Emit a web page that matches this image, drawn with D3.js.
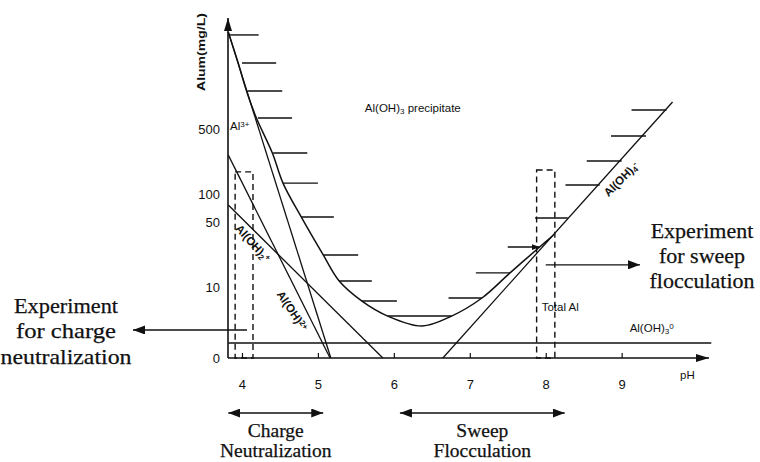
<!DOCTYPE html>
<html>
<head>
<meta charset="utf-8">
<script src="https://cdn.jsdelivr.net/npm/d3@7"></script>
<style>
body { margin: 0; background: #fff; }
svg { display: block; }
.serif { font-family: "Liberation Serif", "Times New Roman", serif; fill: #111; stroke: #111; stroke-width: 0.25px; }
.lbl { font-family: "Liberation Sans", Arial, sans-serif; font-size: 11.5px; fill: #111; }
.tick text { font-family: "Liberation Sans", Arial, sans-serif; font-size: 13px; fill: #111; }
</style>
</head>
<body>
<script>
let width = 760
let height = 462

// ticks
const phTicks = [4, 5, 6, 7, 8, 9]
const alumTicks = [10, 50, 100, 500]
const alumMin = 1.725   // bottom of the axis, labelled "0"
const alumMax = 7800

// species lines, [pH, alum mg/L]
const al3 = [[3.82, 5500], [5.17, alumMin]]
const alOH = [[3.82, 262], [5.16, alumMin]]      // Al(OH)2+ (2+)
const alOH2 = [[3.82, 76], [5.855, alumMin]]     // Al(OH)2 +
const alOH4 = [[6.645, alumMin], [9.67, 975]]    // Al(OH)4 -
const alOH3 = [[3.82, 2.5], [10.18, 2.5]]        // Al(OH)3 0

// total Al curve
const totalAl = [[3.82, 5500], [3.95, 2560], [4.06, 1280], [4.19, 656], [4.40, 276],
    [4.54, 131], [4.78, 56.6], [5.07, 22.1], [5.28, 11.6], [5.58, 7.06], [5.92, 4.87],
    [6.37, 3.81], [6.76, 4.87], [7.16, 7.62], [7.53, 14.2], [7.92, 26.9], [8.1, 36]]

// hatching of the precipitate region: [mg/L, pH left, pH right]
const hatches = [[5130, 3.82, 4.22], [2560, 4.0, 4.45], [1280, 4.07, 4.53], [656, 4.21, 4.66],
    [276, 4.41, 4.86], [131, 4.54, 5.0], [56.6, 4.78, 5.21], [22.1, 5.07, 5.53],
    [11.6, 5.28, 5.71], [7.06, 5.58, 6.04], [4.87, 5.92, 6.76], [7.62, 6.72, 7.16],
    [14.2, 7.08, 7.53], [26.9, 7.5, 7.92], [55.2, 7.86, 8.29], [125, 8.26, 8.71],
    [226, 8.54, 9.0], [421, 8.86, 9.32], [800, 9.13, 9.59]]

// experiment windows: [pH from, pH to, top mg/L]
const boxes = [[3.91, 4.145, 173], [7.88, 8.12, 181]]

// regimes below the axis: [pH from, pH to]
const regimes = [[3.82, 5.07, "Charge", "Neutralization"], [6.08, 8.25, "Sweep", "Flocculation"]]

const x = d3.scaleLinear().domain([3.816, 10.15]).range([228, 709])
const y = d3.scaleLog().domain([alumMin, alumMax]).range([358, 18])

const svg = d3.select("body").append("svg")
    .attr("width", width)
    .attr("height", height)

const defs = svg.append("defs")
function marker(id, w, h) {
    defs.append("marker")
        .attr("id", id)
        .attr("markerUnits", "userSpaceOnUse")
        .attr("markerWidth", w).attr("markerHeight", h)
        .attr("refX", w).attr("refY", h / 2)
        .attr("orient", "auto-start-reverse")
        .append("path")
        .attr("d", `M0,0L${w},${h / 2}L0,${h}Z`)
        .attr("fill", "#111")
}
marker("ax", 13, 8)
marker("arr", 12, 9)
marker("small", 8, 6)

// axes
svg.append("line")
    .attr("x1", x(3.816)).attr("x2", x(3.816))
    .attr("y1", y(alumMin)).attr("y2", y(alumMax))
    .attr("stroke", "#111").attr("stroke-width", 1.6)
    .attr("marker-end", "url(#ax)")
svg.append("line")
    .attr("x1", x(3.816)).attr("x2", x(10.15))
    .attr("y1", y(alumMin)).attr("y2", y(alumMin))
    .attr("stroke", "#111").attr("stroke-width", 1.6)
    .attr("marker-end", "url(#ax)")

const gx = svg.append("g")
    .attr("transform", `translate(0,${y(alumMin)})`)
    .call(d3.axisBottom(x).tickValues(phTicks).tickSizeInner(-5).tickSizeOuter(0).tickPadding(22)
        .tickFormat(d3.format("d")))
gx.select(".domain").remove()
gx.selectAll(".tick line").attr("stroke", "#111").attr("stroke-width", 1.2)

const gy = svg.append("g")
    .attr("transform", `translate(${x(3.816)},0)`)
    .call(d3.axisLeft(y).tickValues([alumMin, ...alumTicks]).tickSize(0).tickPadding(8)
        .tickFormat(d => d === alumMin ? "0" : d))
gy.select(".domain").remove()

svg.append("text")
    .attr("class", "lbl")
    .attr("transform", "translate(205,52) rotate(-90)")
    .attr("text-anchor", "middle")
    .attr("font-weight", "bold")
    .attr("font-size", "12px")
    .attr("textLength", 78)
    .attr("lengthAdjust", "spacingAndGlyphs")
    .text("Alum(mg/L)")
svg.append("text")
    .attr("class", "lbl")
    .attr("font-size", "13px")
    .attr("x", 680).attr("y", 379)
    .text("pH")

// lines
const line = d3.line().x(d => x(d[0])).y(d => y(d[1]))
const species = [al3, alOH, alOH2, alOH4, alOH3]
svg.append("g")
    .attr("fill", "none")
    .attr("stroke", "#111")
    .attr("stroke-width", 1.3)
    .selectAll("path")
    .data(species)
    .join("path")
    .attr("d", line)

svg.append("path")
    .datum(totalAl)
    .attr("fill", "none")
    .attr("stroke", "#111")
    .attr("stroke-width", 1.5)
    .attr("d", line.curve(d3.curveCatmullRom.alpha(0.5)))

svg.append("g")
    .attr("stroke", "#111")
    .attr("stroke-width", 1.4)
    .selectAll("line")
    .data(hatches)
    .join("line")
    .attr("x1", d => x(d[1]))
    .attr("x2", d => x(d[2]))
    .attr("y1", d => y(d[0]))
    .attr("y2", d => y(d[0]))
    .attr("marker-end", (d, i) => i === 13 ? "url(#small)" : null)

// dashed windows
svg.append("g")
    .attr("fill", "none")
    .attr("stroke", "#111")
    .attr("stroke-width", 1.4)
    .attr("stroke-dasharray", "6,4")
    .selectAll("rect")
    .data(boxes)
    .join("rect")
    .attr("x", d => x(d[0]))
    .attr("width", d => x(d[1]) - x(d[0]))
    .attr("y", d => y(d[2]))
    .attr("height", d => y(alumMin) - y(d[2]))

// labels with sub / superscripts
function rich(sel, parts) {
    parts.forEach(p => {
        sel.append("tspan")
            .attr("baseline-shift", p[1] === "sub" ? "-30%" : p[1] === "sup" ? "40%" : null)
            .attr("font-size", p[1] ? "70%" : null)
            .text(p[0])
    })
    return sel
}
function label(pH, c, parts, angle, bold) {
    const t = svg.append("text")
        .attr("class", "lbl")
        .attr("transform", `translate(${x(pH)},${y(c)}) rotate(${angle || 0})`)
        .attr("text-anchor", angle ? "middle" : "start")
        .attr("font-weight", bold ? "bold" : null)
    return rich(t, parts)
}
label(5.618, 762, [["Al(OH)"], ["3", "sub"], [" precipitate"]])
label(3.842, 488, [["Al"], ["3+", "sup"]])
label(7.947, 5.52, [["Total Al"]])
label(9.105, 3.28, [["Al(OH)"], ["3", "sub"], ["0", "sup"]])
label(4.105, 27.6, [["Al(OH)"], ["2", "sub"], ["+", "sup"]], 48, true)
label(4.618, 5.25, [["Al(OH)"], ["2+", "sup"]], 56, true)
label(9.03, 135, [["Al(OH)"], ["4", "sub"], ["-", "sup"]], -45, true)

// experiment arrows
svg.append("line")
    .attr("x1", x(4.066)).attr("x2", 133)
    .attr("y1", y(3.45)).attr("y2", y(3.45))
    .attr("stroke", "#111").attr("stroke-width", 1.3)
    .attr("marker-end", "url(#arr)")
svg.append("line")
    .attr("x1", x(8.0)).attr("x2", 640)
    .attr("y1", y(17.3)).attr("y2", y(17.3))
    .attr("stroke", "#111").attr("stroke-width", 1.3)
    .attr("marker-end", "url(#arr)")

function block(cx, ys, lines, size, lens) {
    const t = svg.append("text")
        .attr("class", "serif")
        .attr("font-size", size + "px")
        .attr("text-anchor", "middle")
    lines.forEach((s, i) => {
        const sp = t.append("tspan").attr("x", cx).attr("y", ys[i]).text(s)
        if (lens) sp.attr("textLength", lens[i]).attr("lengthAdjust", "spacingAndGlyphs")
    })
}
block(66, [313, 338, 364], ["Experiment", "for charge", "neutralization"], 22, [104, 100, 131])
block(702, [238, 263, 288], ["Experiment", "for sweep", "flocculation"], 22)

// regimes below the axis
regimes.forEach(r => {
    svg.append("line")
        .attr("x1", x(r[0])).attr("x2", x(r[1]))
        .attr("y1", 413).attr("y2", 413)
        .attr("stroke", "#111").attr("stroke-width", 1.3)
        .attr("marker-start", "url(#arr)")
        .attr("marker-end", "url(#arr)")
    block((x(r[0]) + x(r[1])) / 2, [437, 457], [r[2], r[3]], 19.5)
})
</script>
</body>
</html>
